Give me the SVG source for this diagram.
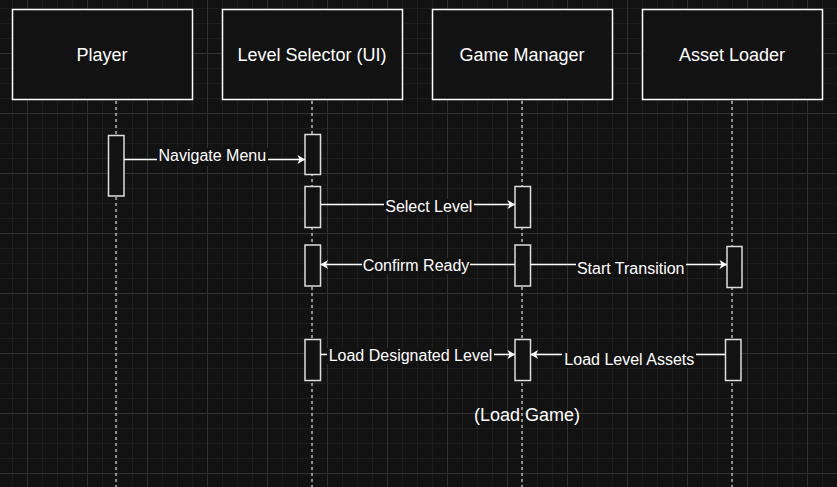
<svg xmlns="http://www.w3.org/2000/svg" width="837" height="487" viewBox="0 0 837 487">
<defs>
<pattern id="grid" x="27" y="53" width="60" height="60" patternUnits="userSpaceOnUse">
<rect width="60" height="60" fill="#121212"/>
<g fill="#1e1e1e">
<rect x="15" y="0" width="1" height="60"/><rect x="30" y="0" width="1" height="60"/><rect x="45" y="0" width="1" height="60"/>
<rect x="0" y="15" width="60" height="1"/><rect x="0" y="30" width="60" height="1"/><rect x="0" y="45" width="60" height="1"/>
</g>
<g fill="#323232">
<rect x="0" y="0" width="1" height="60"/><rect x="0" y="0" width="60" height="1"/>
</g>
</pattern>
<marker id="arr" viewBox="-8 -5 9 10" refX="0" refY="0" markerWidth="9" markerHeight="10" markerUnits="userSpaceOnUse" orient="auto">
<path d="M0,0 L-7.5,-4.5 L-5.5,0 L-7.5,4.5 Z" fill="#ffffff"/>
</marker>
<style>
.box{fill:#121212;stroke:#ffffff;stroke-width:1.5}
.act{fill:#121212;stroke:#dddddd;stroke-width:1.5}
.life{stroke:#dddddd;stroke-width:1.2;stroke-dasharray:3 3;fill:none}
.msg{stroke:#ffffff;stroke-width:1.3;fill:none;marker-end:url(#arr)}
.t{font-family:"Liberation Sans",Arial,sans-serif;fill:#ffffff;text-anchor:middle}
.h{font-size:18px}
.l{font-size:16px}
.bg{fill:#121212}
</style>
</defs>
<rect width="837" height="487" fill="url(#grid)"/>

<g id="lifelines">
<line class="life" x1="116" y1="101" x2="116" y2="487"/>
<line class="life" x1="312" y1="101" x2="312" y2="487"/>
<line class="life" x1="522" y1="101" x2="522" y2="487"/>
<line class="life" x1="732" y1="101" x2="732" y2="487"/>
</g>

<g id="player"><rect class="box" x="12.5" y="9.5" width="180" height="90"/><text class="t h" x="102" y="61">Player</text></g>
<g id="level-selector"><rect class="box" x="222.5" y="9.5" width="180" height="90"/><text class="t h" x="312" y="61">Level Selector (UI)</text></g>
<g id="game-manager"><rect class="box" x="432.5" y="9.5" width="180" height="90"/><text class="t h" x="522" y="61">Game Manager</text></g>
<g id="asset-loader"><rect class="box" x="642.5" y="9.5" width="180" height="90"/><text class="t h" x="732" y="61">Asset Loader</text></g>

<g id="activations">
<rect class="act" x="108.5" y="135.5" width="15.5" height="60.5"/>
<rect class="act" x="305" y="134.5" width="15.5" height="40"/>
<rect class="act" x="305" y="186.5" width="15.5" height="41"/>
<rect class="act" x="515" y="186.5" width="15.5" height="41"/>
<rect class="act" x="305" y="245" width="15.5" height="41"/>
<rect class="act" x="515" y="245" width="15.5" height="41"/>
<rect class="act" x="727" y="246.5" width="15" height="41"/>
<rect class="act" x="305" y="339.5" width="15.5" height="41"/>
<rect class="act" x="515" y="339.5" width="15.5" height="41"/>
<rect class="act" x="725.5" y="339.5" width="15.5" height="41"/>
</g>

<g id="connectors">
<line class="msg" x1="124" y1="159.5" x2="305" y2="159.5"/>
<line class="msg" x1="320.5" y1="204.5" x2="515" y2="204.5"/>
<line class="msg" x1="515" y1="264.5" x2="320.5" y2="264.5"/>
<line class="msg" x1="530.5" y1="264.5" x2="727" y2="264.5"/>
<line class="msg" x1="320.5" y1="354.5" x2="515" y2="354.5"/>
<line class="msg" x1="725.5" y1="354.5" x2="530.5" y2="354.5"/>
</g>

<g id="labels">
<rect class="bg" x="157" y="148" width="111" height="18"/>
<text class="t l" x="212.3" y="161">Navigate Menu</text>
<rect class="bg" x="384" y="199" width="90" height="16"/>
<text class="t l" x="428.8" y="212">Select Level</text>
<rect class="bg" x="362" y="258" width="108" height="16"/>
<text class="t l" x="416" y="271">Confirm Ready</text>
<rect class="bg" x="576" y="261" width="110" height="16"/>
<text class="t l" x="630.7" y="274">Start Transition</text>
<rect class="bg" x="327" y="348" width="167" height="16"/>
<text class="t l" x="410.5" y="361">Load Designated Level</text>
<rect class="bg" x="562" y="352" width="134" height="16"/>
<text class="t l" x="629.3" y="365">Load Level Assets</text>
<text class="t h" x="527" y="421">(Load Game)</text>
</g>
</svg>
